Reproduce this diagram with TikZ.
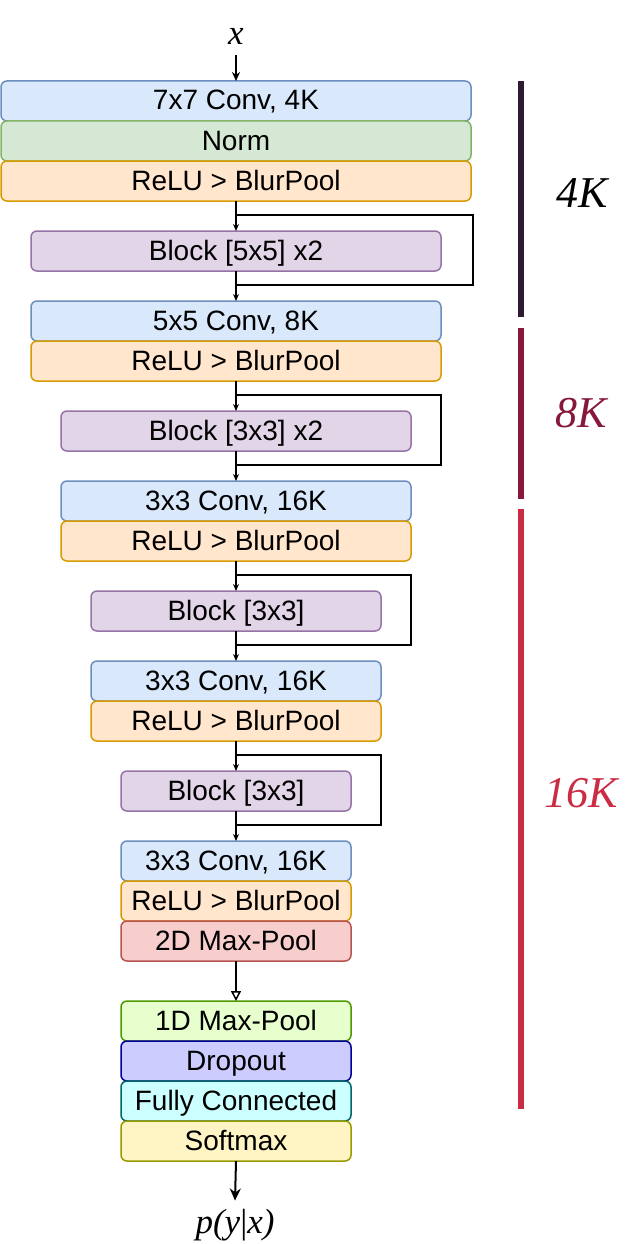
\documentclass[tikz,border=0pt]{standalone}
\usepackage{fontspec}
\setmainfont{Liberation Sans}
\newfontfamily\lserif{Liberation Serif}
\usetikzlibrary{arrows.meta}
\definecolor{cBlueF}{HTML}{DAE8FC}\definecolor{cBlueD}{HTML}{6C8EBF}
\definecolor{cGreenF}{HTML}{D5E8D4}\definecolor{cGreenD}{HTML}{82B366}
\definecolor{cOrF}{HTML}{FFE6CC}\definecolor{cOrD}{HTML}{D79B00}
\definecolor{cPuF}{HTML}{E1D5E7}\definecolor{cPuD}{HTML}{9673A6}
\definecolor{cRedF}{HTML}{F8CECC}\definecolor{cRedD}{HTML}{B85450}
\definecolor{cLgF}{HTML}{E6FFCC}\definecolor{cLgD}{HTML}{4D9900}
\definecolor{cDrF}{HTML}{CCCCFF}\definecolor{cDrD}{HTML}{000099}
\definecolor{cFcF}{HTML}{CCFFFF}\definecolor{cFcD}{HTML}{006666}
\definecolor{cSmF}{HTML}{FFF4C3}\definecolor{cSmD}{HTML}{999900}
\definecolor{cBarA}{HTML}{2E1A32}
\definecolor{cBarB}{HTML}{86183A}
\definecolor{cBarC}{HTML}{C92C43}
\begin{document}
\begin{tikzpicture}[x=1pt,y=-1pt,
  box/.style={draw, rounded corners=6pt, line width=1.5pt, minimum height=40pt,
    inner sep=0pt, outer sep=0pt, text height=20pt, text depth=2pt,
    font=\fontsize{28pt}{30pt}\selectfont},
  bluebox/.style={box, fill=cBlueF, draw=cBlueD},
  greenbox/.style={box, fill=cGreenF, draw=cGreenD},
  orbox/.style={box, fill=cOrF, draw=cOrD},
  pubox/.style={box, fill=cPuF, draw=cPuD},
  redbox/.style={box, fill=cRedF, draw=cRedD},
  lgbox/.style={box, fill=cLgF, draw=cLgD},
  drbox/.style={box, fill=cDrF, draw=cDrD},
  fcbox/.style={box, fill=cFcF, draw=cFcD},
  smbox/.style={box, fill=cSmF, draw=cSmD},
  resarrow/.style={line width=1.5pt, -{Stealth[length=7pt,width=6pt]}},
  resline/.style={line width=1.5pt},
  mathlbl/.style={font=\lserif\itshape\fontsize{35pt}{40pt}\selectfont, anchor=base},
  klbl/.style={font=\lserif\itshape\fontsize{44pt}{50pt}\selectfont, anchor=base},
  bar/.style={line width=6pt}
]
\useasboundingbox (0,0) rectangle (632,1244);

% input
\node[mathlbl, inner xsep=0pt, inner ysep=10pt] (xin) at (236,45) {x};

% stem
\node[bluebox, minimum width=470pt] (n1) at (236,101) {7x7 Conv, 4K};
\node[greenbox, minimum width=470pt] (n2) at (236,141) {Norm};
\node[orbox, minimum width=470pt] (n3) at (236,181) {ReLU > BlurPool};

\node[pubox, minimum width=410pt] (b1) at (236,251) {Block [5x5] x2};
\node[bluebox, minimum width=410pt] (n4) at (236,321) {5x5 Conv, 8K};
\node[orbox, minimum width=410pt] (n5) at (236,361) {ReLU > BlurPool};

\node[pubox, minimum width=350pt] (b2) at (236,431) {Block [3x3] x2};
\node[bluebox, minimum width=350pt] (n6) at (236,501) {3x3 Conv, 16K};
\node[orbox, minimum width=350pt] (n7) at (236,541) {ReLU > BlurPool};

\node[pubox, minimum width=290pt] (b3) at (236,611) {Block [3x3]};
\node[bluebox, minimum width=290pt] (n8) at (236,681) {3x3 Conv, 16K};
\node[orbox, minimum width=290pt] (n9) at (236,721) {ReLU > BlurPool};

\node[pubox, minimum width=230pt] (b4) at (236,791) {Block [3x3]};
\node[bluebox, minimum width=230pt] (n10) at (236,861) {3x3 Conv, 16K};
\node[orbox, minimum width=230pt] (n11) at (236,901) {ReLU > BlurPool};
\node[redbox, minimum width=230pt] (n12) at (236,941) {2D Max-Pool};

\node[lgbox, minimum width=230pt] (n13) at (236,1021) {1D Max-Pool};
\node[drbox, minimum width=230pt] (n14) at (236,1061) {Dropout};
\node[fcbox, minimum width=230pt] (n15) at (236,1101) {Fully Connected};
\node[smbox, minimum width=230pt] (n16) at (236,1141) {Softmax};

\node[mathlbl, inner xsep=0pt, inner ysep=8pt] (out) at (235,1233) {p(y{\upshape|}x)};

% arrows
\draw[line width=1.5pt, -{Stealth[length=9pt,width=8pt]}] (xin.south) -- (n1.north);

\foreach \a/\b/\c/\ys/\ye/\xr in {n3/b1/n4/215/285/473, n5/b2/n6/395/465/441, n7/b3/n8/575/645/411, n9/b4/n10/755/825/381}{
  \draw[resarrow] (\a.south) -- (\b.north);
  \draw[resarrow] (\b.south) -- (\c.north);
  \coordinate (s-\b) at (236,\ys);
  \coordinate (t-\b) at (236,\ye);
  \coordinate (r-\b) at (\xr,\ys);
  \draw[resline] (s-\b) -- (r-\b) |- (t-\b);
}

\draw[line width=1.5pt, -{Triangle[open, length=10pt, width=10pt, fill=white]}] (n12.south) -- (n13.north);
\draw[line width=2pt, -{Stealth[length=12pt,width=11pt]}] (n16.south) -- (out.north);

% bars
\coordinate (a1) at (521,81);  \coordinate (a2) at (521,317);
\coordinate (c1) at (521,328); \coordinate (c2) at (521,499);
\coordinate (d1) at (521,509); \coordinate (d2) at (521,1109);
\draw[bar, cBarA] (a1) -- (a2);
\draw[bar, cBarB] (c1) -- (c2);
\draw[bar, cBarC] (d1) -- (d2);

\node[klbl, text=black] (k4) at (582,207) {4K};
\node[klbl, text=cBarB] (k8) at (581,427) {8K};
\node[klbl, text=cBarC] (k16) at (581,807) {16K};
\end{tikzpicture}
\end{document}
